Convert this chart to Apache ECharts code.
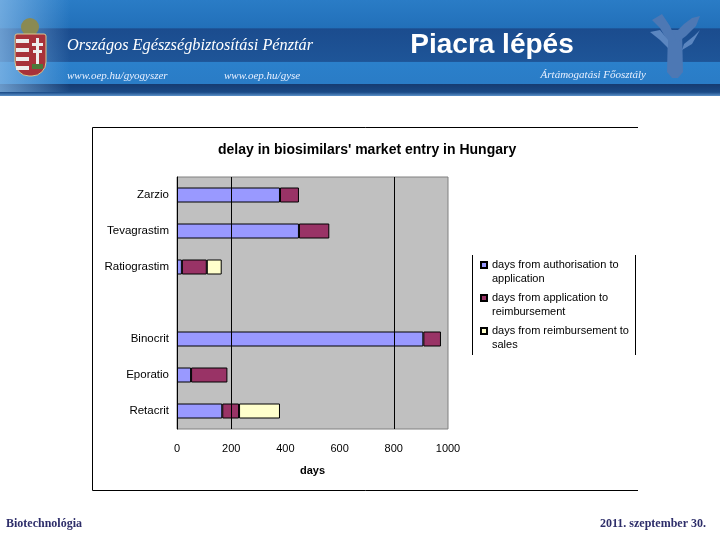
<!DOCTYPE html>
<html>
<head>
<meta charset="utf-8">
<script src="https://cdn.jsdelivr.net/npm/echarts@6/dist/echarts.min.js"></script>
<style>
  html, body { margin: 0; padding: 0; background: #fff; }
  #main { width: 720px; height: 540px; }
</style>
</head>
<body>
<div id="main"></div>
<script>
// adatok a diagramhoz
var categories = ['Zarzio', 'Tevagrastim', 'Ratiograstim', '', 'Binocrit', 'Eporatio', 'Retacrit'];
var authToApp = [380, 450, 18, '-', 909, 52, 167];
var appToReimb = [70, 112, 92, '-', 65, 134, 62];
var reimbToSales = ['-', '-', 55, '-', '-', '-', 151];
var seriesNames = [
  'days from authorisation to\napplication',
  'days from application to\nreimbursement',
  'days from reimbursement to\nsales'
];
var gridDays = [200, 800];

var chart = echarts.init(document.getElementById('main'), null, { renderer: 'canvas' });

// fejléc + lábléc grafika
var headerGraphics = [
  { type: 'rect', shape: { x: 0, y: 0, width: 720, height: 96 }, z: -10,
    style: { fill: { type: 'linear', x: 0, y: 0, x2: 0, y2: 1, colorStops: [
      { offset: 0, color: '#2a7cc6' }, { offset: 0.29, color: '#2270b9' },
      { offset: 0.30, color: '#1b4c8e' }, { offset: 0.64, color: '#1e5598' },
      { offset: 0.65, color: '#2b80cb' }, { offset: 0.87, color: '#2a7cc6' },
      { offset: 0.88, color: '#163c72' }, { offset: 0.96, color: '#1a4a86' },
      { offset: 1, color: '#5a90c8' }] } } },
  { type: 'rect', shape: { x: 0, y: 0, width: 70, height: 92 }, z: -9,
    style: { fill: { type: 'linear', x: 0, y: 0, x2: 1, y2: 0, colorStops: [
      { offset: 0, color: 'rgba(140,190,235,0.7)' }, { offset: 1, color: 'rgba(140,190,235,0)' }] } } },
  // címer
  { type: 'circle', shape: { cx: 30, cy: 27, r: 9 }, style: { fill: '#8a8a52' } },
  { type: 'rect', shape: { x: 15, y: 34, width: 31, height: 42, r: [2, 2, 14, 14] }, style: { fill: '#a8323a', stroke: '#d8c890', lineWidth: 1 } },
  { type: 'rect', shape: { x: 16, y: 39, width: 13, height: 4 }, style: { fill: '#eeeeee' } },
  { type: 'rect', shape: { x: 16, y: 48, width: 13, height: 4 }, style: { fill: '#eeeeee' } },
  { type: 'rect', shape: { x: 16, y: 57, width: 13, height: 4 }, style: { fill: '#eeeeee' } },
  { type: 'rect', shape: { x: 16, y: 66, width: 13, height: 4 }, style: { fill: '#eeeeee' } },
  { type: 'rect', shape: { x: 36, y: 38, width: 3, height: 26 }, style: { fill: '#eeeeee' } },
  { type: 'rect', shape: { x: 32, y: 43, width: 11, height: 3 }, style: { fill: '#eeeeee' } },
  { type: 'rect', shape: { x: 33, y: 50, width: 9, height: 3 }, style: { fill: '#eeeeee' } },
  { type: 'rect', shape: { x: 32, y: 64, width: 11, height: 5 }, style: { fill: '#4a7a3a' } },
  // jobb oldali logó
  { type: 'polygon', shape: { points: [[668, 30], [682, 30], [683, 72], [678, 78], [672, 78], [667, 72]] }, style: { fill: '#4d78b4' } },
  { type: 'polygon', shape: { points: [[652, 20], [662, 14], [670, 26], [676, 40], [668, 42], [660, 28]] }, style: { fill: '#4d78b4' } },
  { type: 'polygon', shape: { points: [[700, 16], [696, 26], [686, 36], [678, 42], [674, 34], [684, 24], [692, 18]] }, style: { fill: '#4d78b4' } },
  { type: 'polygon', shape: { points: [[650, 32], [660, 30], [668, 40], [668, 48], [660, 40]] }, style: { fill: '#5b86c0' } },
  { type: 'polygon', shape: { points: [[700, 30], [694, 36], [684, 44], [682, 50], [692, 44]] }, style: { fill: '#5b86c0' } },
  // szövegek
  { type: 'text', x: 67, y: 46, style: { text: 'Országos Egészségbiztosítási Pénztár', fill: '#ffffff',
    font: 'italic 16.3px "Liberation Serif", serif', verticalAlign: 'middle' } },
  { type: 'text', x: 67, y: 76, style: { text: 'www.oep.hu/gyogyszer', fill: '#e8f0ff',
    font: 'italic 11px "Liberation Serif", serif', verticalAlign: 'middle' } },
  { type: 'text', x: 224, y: 76, style: { text: 'www.oep.hu/gyse', fill: '#e8f0ff',
    font: 'italic 11px "Liberation Serif", serif', verticalAlign: 'middle' } },
  { type: 'text', x: 646, y: 75, style: { text: 'Ártámogatási Főosztály', fill: '#e8f0ff',
    font: 'italic 11px "Liberation Serif", serif', verticalAlign: 'middle', align: 'right' } },
  { type: 'text', x: 492, y: 45, style: { text: 'Piacra lépés', fill: '#ffffff',
    font: 'bold 28px "Liberation Sans", Arial, sans-serif', verticalAlign: 'middle', align: 'center' } },
  // diagram keret (jobb oldala nincs)
  { type: 'polyline', shape: { points: [[638, 127.5], [92.5, 127.5], [92.5, 490.5], [638, 490.5]] },
    style: { stroke: '#000000', lineWidth: 1, fill: null } },
  // jelmagyarázat keret
  { type: 'line', shape: { x1: 472.5, y1: 255, x2: 472.5, y2: 355 }, style: { stroke: '#000', lineWidth: 1 } },
  { type: 'line', shape: { x1: 635.5, y1: 255, x2: 635.5, y2: 355 }, style: { stroke: '#000', lineWidth: 1 } },
  // lábléc
  { type: 'text', x: 6, y: 524, style: { text: 'Biotechnológia', fill: '#2e2e6a',
    font: 'bold 12px "Liberation Serif", serif', verticalAlign: 'middle' } },
  { type: 'text', x: 706, y: 524, style: { text: '2011. szeptember 30.', fill: '#2e2e6a',
    font: 'bold 12px "Liberation Serif", serif', verticalAlign: 'middle', align: 'right' } }
];

var barColors = ['#9999ff', '#993366', '#ffffcc'];
var values = [authToApp, appToReimb, reimbToSales];

var series = [{
  // csak a függőleges rácsvonalakhoz
  type: 'line',
  data: [],
  z: 1,
  silent: true,
  markLine: {
    symbol: 'none',
    silent: true,
    label: { show: false },
    lineStyle: { color: '#000000', type: 'solid', width: 1 },
    data: gridDays.map(function (d) { return { xAxis: d }; })
  }
}];
for (var i = 0; i < 3; i++) {
  series.push({
    name: seriesNames[i],
    type: 'bar',
    stack: 'total',
    barWidth: 15,
    z: 3,
    itemStyle: { color: barColors[i], borderColor: '#000000', borderWidth: 1 },
    data: values[i]
  });
}

var option = {
  animation: false,
  textStyle: { fontFamily: '"Liberation Sans", Arial, sans-serif' },
  title: {
    text: "delay in biosimilars' market entry in Hungary",
    left: 213,
    top: 138,
    textStyle: { fontSize: 14, fontWeight: 'bold', color: '#000' }
  },
  legend: {
    data: seriesNames,
    orient: 'vertical',
    left: 475,
    top: 239,
    icon: 'rect',
    itemWidth: 6,
    itemHeight: 6,
    itemGap: -9,
    // üres első sor: így a jel az első szövegsorhoz igazodik
    formatter: function (name) { return '\n' + name; },
    textStyle: { fontSize: 11, color: '#000', lineHeight: 14 }
  },
  grid: {
    left: 177,
    top: 177,
    width: 271,
    height: 252,
    show: true,
    backgroundColor: '#c0c0c0',
    borderColor: '#808080',
    borderWidth: 1
  },
  xAxis: {
    type: 'value',
    min: 0,
    max: 1000,
    interval: 200,
    name: 'days',
    nameLocation: 'middle',
    nameGap: 36,
    nameTextStyle: { fontSize: 11, fontWeight: 'bold', color: '#000' },
    axisLine: { show: false },
    axisTick: { show: false },
    splitLine: { show: false },
    axisLabel: { fontSize: 11, color: '#000', margin: 14, formatter: function (v) { return String(v); } }
  },
  yAxis: {
    type: 'category',
    inverse: true,
    data: categories,
    axisLine: { show: true, lineStyle: { color: '#000', width: 1 } },
    axisTick: { show: false },
    axisLabel: { fontSize: 11.5, color: '#000', margin: 8 }
  },
  graphic: headerGraphics,
  series: series
};

chart.setOption(option);
</script>
</body>
</html>
